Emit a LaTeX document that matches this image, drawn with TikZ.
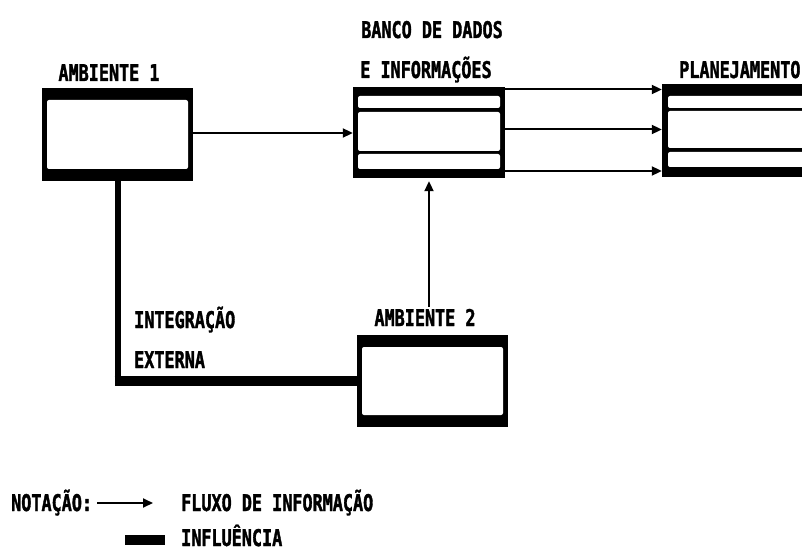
\documentclass[tikz,border=0pt]{standalone}
\usepackage{fontspec}
\newfontfamily\diagfont[FakeStretch=0.73,FakeBold=1.5]{DejaVu Sans Mono Bold}
\usetikzlibrary{arrows.meta,calc}
\begin{document}
\begin{tikzpicture}[x=1pt,y=-1pt,
  lbl/.style={font=\diagfont\fontsize{23}{23}\selectfont, inner sep=0pt},
  boxouter/.style={fill=black, draw=none, inner sep=0pt},
  strip/.style={fill=white, rounded corners=2pt},
  flow/.style={line width=2pt, -{Triangle[length=10pt,width=9pt]}},
  infl/.style={line width=6pt},
  inflh/.style={line width=10pt}]
\useasboundingbox (0,0) rectangle (802,553);
\fill[white] (0,0) rectangle (802,553);
% boxes
\node[boxouter, minimum width=151pt, minimum height=93pt] (a1) at (117.5,134.5) {};
\node[boxouter, minimum width=152pt, minimum height=91pt] (banco) at (429,132.5) {};
\node[boxouter, minimum width=170pt, minimum height=93pt] (plan) at (747,130.5) {};
\node[boxouter, minimum width=151pt, minimum height=92pt] (a2) at (432.5,381) {};
% inner whites
\fill[strip] (47,100) rectangle (188,169);
\fill[strip] (358,96) rectangle (500,108);
\fill[strip] (358,112) rectangle (500,151);
\fill[strip] (358,154) rectangle (500,169);
\fill[strip] (668,96) rectangle (830,108);
\fill[strip] (668,111) rectangle (830,148);
\fill[strip] (668,152) rectangle (830,167);
\fill[strip] (362,347) rectangle (503,415);
% labels
\node[lbl, anchor=base] (a1lbl) at (109,81) {AMBIENTE 1};
\node[lbl, anchor=base] (bl1) at (432,38) {BANCO DE DADOS};
\node[lbl, anchor=base] (bl2) at (426,78) {E INFORMAÇÕES};
\node[lbl, anchor=base west] (plbl) at (679,78) {PLANEJAMENTO};
\node[lbl, anchor=base] (a2lbl) at (425,326) {AMBIENTE 2};
\node[lbl, anchor=base west] (ie1) at (134,328) {INTEGRAÇÃO};
\node[lbl, anchor=base west] (ie2) at (134,368) {EXTERNA};
\node[lbl, anchor=base west] (nota) at (11,511) {NOTAÇÃO:};
\node[lbl, anchor=base west] (fluxo) at (181,511) {FLUXO DE INFORMAÇÃO};
\node[lbl, anchor=base west] (influ) at (181,546) {INFLUÊNCIA};
% flows
\draw[flow] (a1.east) ++(0,-1.5) coordinate (s1) -- (s1 -| banco.west);
\draw[flow] ([yshift=43pt]banco.east) coordinate (s2) -- (s2 -| plan.west);
\draw[flow] ([yshift=3pt]banco.east) coordinate (s3) -- (s3 -| plan.west);
\draw[flow] ([yshift=-38.5pt]banco.east) coordinate (s4) -- (s4 -| plan.west);
\draw[flow] ([yshift=2pt]a2lbl.north -| banco.south) -- ([yshift=-3pt]banco.south);
% influence
\coordinate (corner) at (a1.south |- a2.west);
\draw[infl] (a1.south) -- ([yshift=-5pt]corner);
\draw[inflh] ([xshift=-3pt]corner) -- (a2.west);
% legend
\coordinate (lf1) at (97,503);
\coordinate (lf2) at (153,503);
\draw[flow] (lf1) -- (lf2);
\coordinate (li1) at (125,540);
\coordinate (li2) at (165,540);
\draw[inflh] (li1) -- (li2);
\end{tikzpicture}
\end{document}
